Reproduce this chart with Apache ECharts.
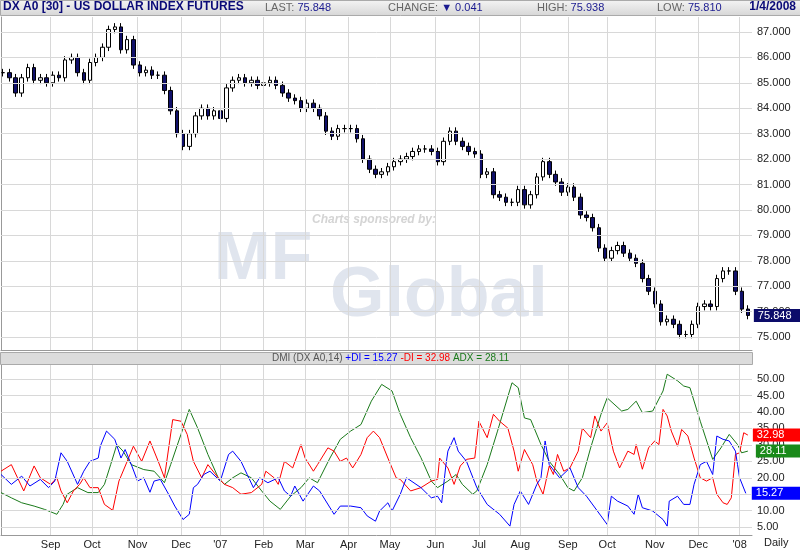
<!DOCTYPE html>
<html><head><meta charset="utf-8">
<script src="https://cdn.jsdelivr.net/npm/echarts@6/dist/echarts.min.js"></script>
<style>html,body{margin:0;padding:0;background:#fff}#c{width:800px;height:550px}</style>
</head><body><div id="c"></div>
<script>
// month labels (trading-day index)
const monthT = [24,44,66,87,106,127,147,168,188,210,231,251,274,293,316,337,357];
const monthLabels = ['Sep','Oct','Nov','Dec',"'07",'Feb','Mar','Apr','May','Jun','Jul','Aug','Sep','Oct','Nov','Dec',"'08"];
// price closes, one every 3 trading days (t = 1,4,7,...)
const closes = [85.4,85.2,84.6,85.2,85.6,85.1,85.2,85.0,85.3,85.2,85.9,86.0,85.4,85.1,85.8,86.0,86.4,87.1,87.2,86.3,86.7,85.7,85.4,85.5,85.3,85.3,84.7,83.9,83.0,82.5,83.0,83.7,84.0,83.7,83.9,83.6,84.8,85.1,85.2,85.0,85.1,84.9,85.0,85.1,84.9,84.6,84.4,84.3,84.0,84.2,84.0,83.7,83.1,82.9,83.2,83.2,83.2,82.8,82.0,81.6,81.4,81.5,81.7,81.9,82.0,82.1,82.3,82.4,82.4,82.3,81.9,82.7,83.1,82.7,82.5,82.3,82.2,81.4,81.5,80.6,80.5,80.3,80.3,80.8,80.2,80.6,81.3,81.9,81.4,81.1,80.7,80.9,80.5,79.8,79.7,79.3,78.5,78.1,78.4,78.6,78.3,78.1,77.9,77.3,76.8,76.3,75.6,75.7,75.5,75.1,75.1,75.5,76.2,76.3,76.2,77.3,77.6,77.6,76.8,76.1,75.848];
const priceTicks = [75,76,77,78,79,80,81,82,83,84,85,86,87];
const dmiTicks = [5,10,15,20,25,30,35,40,45,50];
// +DI
const plusT = [0,5,10,14,19,23,26,29,32,37,40,43,47,48,51,55,58,60,63,66,69,72,74,77,81,84,88,91,93,95,98,101,106,110,112,116,119,122,125,129,134,137,140,142,146,151,154,161,164,169,174,177,181,183,187,189,193,
196,203,208,211,213,215,216,219,221,225,230,235,241,246,248,251,255,259,261,263,265,270,275,279,283,290,293,295,298,303,306,308,310,315,320,322,323,327,330,333,335,338,341,344,346,349,352,355,356,357,360];
const plusDI = [21,18,20.5,17.5,19.5,17,19,27.6,25,18,22,25,26,29.6,34.2,31.7,26,28.6,24,19,20,15.6,19,19.5,15,11.4,7.3,8.9,17,18,21,22,19,27.1,28.1,25,21,17,20,18.5,20,16,14.4,17.5,12.9,17.5,16,8.9,11.4,11.4,10.9,8.4,6.8,9.9,12.4,9.9,15,
20,17,13.9,14.4,12.4,23.6,28.1,32.2,28.1,25,17,11.9,8.9,5.3,11.9,16,11.9,18,20,31.2,24,20,23,17,14.4,8.4,5.8,14.4,12.9,11.4,8.9,15,10.9,9.9,7.3,5.3,12.9,14.4,11.9,11.9,18,24,25,21,32.7,31.7,31.2,28.1,24,20,15.27];
// -DI
const minusT = [0,5,8,11,16,19,24,27,29,32,35,38,40,43,47,50,54,57,61,64,68,72,76,79,83,87,90,93,97,100,105,108,112,116,121,126,128,132,134,137,141,145,147,151,153,158,161,164,167,170,174,177,180,183,187,191,193,
198,203,208,211,212,216,219,222,225,229,231,235,238,241,245,248,250,253,257,259,262,265,267,269,272,275,279,281,285,287,290,293,296,299,303,306,307,310,313,316,318,320,322,324,327,329,332,335,338,341,344,346,349,351,353,355,357,359,361];
const minusDI = [22,24,20,16,23.6,20,18,20,16,12.4,16,18,20,17,17,11.9,10.1,19,25,29.6,25,31.2,25,20,37.7,37.2,33.2,25,20,24,20,18,17,15,15.5,18,22,20,18,25,23,30.1,26,22,24,29.1,28.1,25,26,23,27.1,32.2,34.2,32.2,26,20,19.5,
16,17,19,19.5,26,23,18,23.6,25.6,26,37.2,32.2,39.3,37.2,35.1,28.1,22,28.6,24,19,15,23.6,21,27.1,22,23,28.1,35.1,32.2,38.8,34.2,36.7,28.1,23,28.1,27.1,30.1,22.6,29.1,31.2,30.1,40.8,38.8,34.2,29.6,34.7,32.7,26,20,19,20,15,12.4,11.9,13.9,27.1,27.6,33.7,32.98];
// ADX
const adxT = [0,5,10,16,21,27,30,32,37,42,47,50,53,56,59,63,69,74,79,82,87,91,95,100,105,108,112,116,121,126,130,135,140,145,149,153,159,164,169,174,179,184,189,193,
198,203,208,211,216,220,223,228,230,235,240,247,250,253,256,261,265,270,274,277,281,285,290,293,300,303,307,310,315,320,322,327,330,333,338,344,348,352,356,358,361];
const adx = [15.5,13.9,12.4,11.4,10.4,8.9,11.9,15,17,15.5,15.5,18,24,30.1,28.1,24,22.5,22,18.5,24,33.2,40.8,35.2,27.1,20,18,20,21.5,20,16,12.9,10.4,14.4,17,20,18.5,26,31.7,34.2,36.2,43.3,48.4,46.4,39.3,
32.2,26.1,19,17,19,21,18,15,16,24,34.2,48.9,47.4,38.2,37.7,30.1,25,21,17,16,20,29.1,39.3,44.3,40.3,40.8,43.3,39.8,40.3,46.4,51.5,49.5,47.9,47.4,37.2,25.6,29.1,33.2,30.1,27.6,28.11];

const candles = closes.map((c,i)=>{const o = i===0?c:closes[i-1];return [3*i+1,o,c,Math.min(o,c)-0.15,Math.max(o,c)+0.15];});
const pair=(t,v)=>t.map((x,i)=>[x,v[i]]);
const gridCol='#d8d8d8';
const vLines = monthT.map(t=>({xAxis:t}));
const mlStyle={silent:true,symbol:'none',label:{show:false},lineStyle:{color:gridCol,type:'solid',width:1},animation:false};
const font='Arial, "Liberation Sans", sans-serif';
const xBase={type:'value',min:0,max:363,splitLine:{show:false},axisTick:{show:false},axisLine:{show:true,lineStyle:{color:'#999'}}};
const chart=echarts.init(document.getElementById('c'));
chart.setOption({
 animation:false,backgroundColor:'#fff',
 grid:[{left:1,right:48,top:17,bottom:200},{left:1,right:48,top:365,bottom:15}],
 xAxis:[Object.assign({gridIndex:0,axisLabel:{show:false}},xBase),
  Object.assign({gridIndex:1,axisLabel:{customValues:monthT,formatter:v=>monthLabels[monthT.indexOf(v)]||'',color:'#222',fontSize:11,fontFamily:font,margin:4}},xBase)],
 yAxis:[{gridIndex:0,type:'value',position:'right',min:74.49,max:87.59,splitLine:{show:false},axisTick:{show:false},
   axisLine:{show:true,lineStyle:{color:'#999'}},axisLabel:{customValues:priceTicks,formatter:v=>v.toFixed(3),color:'#222',fontSize:11,fontFamily:font,margin:5}},
  {gridIndex:1,type:'value',position:'right',min:2.6,max:54.3,splitLine:{show:false},axisTick:{show:false},
   axisLine:{show:true,lineStyle:{color:'#999'}},axisLabel:{customValues:dmiTicks,formatter:v=>v.toFixed(2),color:'#222',fontSize:11,fontFamily:font,margin:5}}],
 series:[
  {type:'line',xAxisIndex:0,yAxisIndex:0,data:[],markLine:Object.assign({data:vLines.concat(priceTicks.map(v=>({yAxis:v})))},mlStyle)},
  {type:'line',xAxisIndex:1,yAxisIndex:1,data:[],markLine:Object.assign({data:vLines.concat(dmiTicks.map(v=>({yAxis:v})))},mlStyle)},
  {type:'candlestick',xAxisIndex:0,yAxisIndex:0,data:candles,encode:{x:0,y:[1,2,3,4]},barWidth:4,
   itemStyle:{color:'#ffffff',color0:'#10106a',borderColor:'#000',borderColor0:'#000',borderWidth:1}},
  {type:'line',xAxisIndex:0,yAxisIndex:0,data:[[361,75.848]],symbol:'none',lineStyle:{opacity:0},
   endLabel:{show:true,formatter:'75.848',backgroundColor:'#0c0c6a',color:'#fff',fontSize:11,fontFamily:font,padding:[1,14,1,4],distance:6}},
  {type:'line',xAxisIndex:1,yAxisIndex:1,data:pair(adxT,adx),symbol:'none',lineStyle:{color:'#1a7a1a',width:1},
   endLabel:{show:true,formatter:'28.11',backgroundColor:'#1a8a1a',color:'#fff',fontSize:11,fontFamily:font,padding:[1,18,1,4],distance:8}},
  {type:'line',xAxisIndex:1,yAxisIndex:1,data:pair(minusT,minusDI),symbol:'none',lineStyle:{color:'#ff0000',width:1},
   endLabel:{show:true,formatter:'32.98',backgroundColor:'#ff0000',color:'#fff',fontSize:11,fontFamily:font,padding:[1,18,1,4],distance:5}},
  {type:'line',xAxisIndex:1,yAxisIndex:1,data:pair(plusT,plusDI),symbol:'none',lineStyle:{color:'#0000ff',width:1},
   endLabel:{show:true,formatter:'15.27',backgroundColor:'#0000ff',color:'#fff',fontSize:11,fontFamily:font,padding:[1,18,1,4],distance:6}}
 ],
 graphic:[
  {type:'rect',left:0,top:0,shape:{width:800,height:15},style:{fill:new echarts.graphic.LinearGradient(0,0,0,1,[{offset:0,color:'#f4f4f4'},{offset:1,color:'#d6d6d6'}]),stroke:'#aaa',lineWidth:1},z:10},
  {type:'text',left:3,top:1,style:{text:'DX A0 [30] - US DOLLAR INDEX FUTURES',fill:'#0a0a78',font:'bold 12px '+font},z:11},
  {type:'text',left:265,top:2,style:{text:'{g|LAST: }{b|75.848}',rich:{g:{fill:'#666',font:'11px '+font},b:{fill:'#1a1a90',font:'11px '+font}}},z:11},
  {type:'text',left:388,top:2,style:{text:'{g|CHANGE: }{b|▼ 0.041}',rich:{g:{fill:'#666',font:'11px '+font},b:{fill:'#1a1a90',font:'11px '+font}}},z:11},
  {type:'text',left:537,top:2,style:{text:'{g|HIGH: }{b|75.938}',rich:{g:{fill:'#666',font:'11px '+font},b:{fill:'#1a1a90',font:'11px '+font}}},z:11},
  {type:'text',left:657,top:2,style:{text:'{g|LOW: }{b|75.810}',rich:{g:{fill:'#666',font:'11px '+font},b:{fill:'#1a1a90',font:'11px '+font}}},z:11},
  {type:'text',right:4,top:1,style:{text:'1/4/2008',fill:'#0a0a78',font:'bold 12px '+font},z:11},
  {type:'rect',left:0,top:352,shape:{width:752,height:12},style:{fill:'#dcdcdc',stroke:'#aaa',lineWidth:1},z:10},
  {type:'text',left:272,top:353,style:{text:'{g|DMI (DX A0,14) }{b|+DI = 15.27 }{r|-DI = 32.98 }{n|ADX = 28.11}',rich:{g:{fill:'#555',font:'10px '+font},b:{fill:'#0000ff',font:'10px '+font},r:{fill:'#ff0000',font:'10px '+font},n:{fill:'#1a7a1a',font:'10px '+font}}},z:11},
  {type:'text',left:312,top:214,style:{text:'Charts sponsored by:',fill:'#d4d4d4',font:'italic bold 12px '+font},z:0},
  {type:'text',left:214,top:226,style:{text:'MF',fill:'#e0e5ee',font:'bold 68px '+font},z:0},
  {type:'text',left:330,top:262,style:{text:'Global',fill:'#e0e5ee',font:'bold 70px '+font},z:0},
  {type:'text',left:764,top:537,style:{text:'Daily',fill:'#222',font:'11px '+font},z:11}
 ]
});
</script></body></html>
